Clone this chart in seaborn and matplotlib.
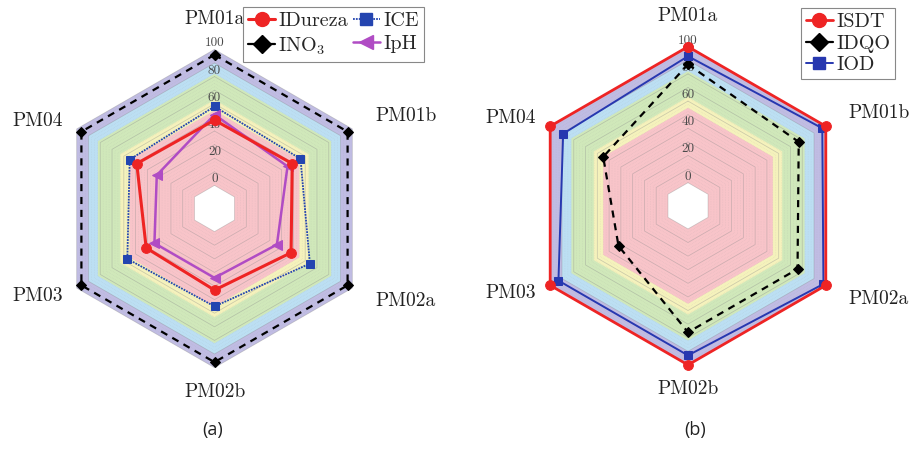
import numpy as np
import matplotlib
matplotlib.use("Agg")
import matplotlib.pyplot as plt
from matplotlib.lines import Line2D
import seaborn as sns

# Axis names (clockwise from the top) and radial tick values
axis_names = ["PM01a", "PM01b", "PM02a", "PM02b", "PM03", "PM04"]
tick_values = [0, 20, 40, 60, 80, 100]

# Panel (a) indices
idureza = [48, 49, 48, 43, 41, 49]
ice = [58, 56, 64, 55, 57, 55]
ino3 = [96, 96, 96, 96, 96, 96]
iph = [52, 45, 36, 34, 34, 32]

# Panel (b) indices
isdt = [100, 100, 100, 100, 100, 100]
idqo = [87, 77, 76, 76, 42, 55]
iod = [93, 97, 98, 93, 93, 89]

# Quality classes shaded behind the polygons
band_edges = [0, 55, 63, 82, 90, 100]
band_colors = ["#F8C4C9", "#F5F2BC", "#D0E8BA", "#BCDFF3", "#C0BCE3"]

PX = 1.36   # pixels per index unit
R0 = 17.0   # radius of the zero ring, in index units
W, H = 910, 468

sns.set_style("white")
plt.rcParams["font.family"] = ["cmr10", "DejaVu Serif"]
plt.rcParams["mathtext.fontset"] = "cm"
plt.rcParams["axes.unicode_minus"] = False

theta = np.deg2rad([90, 30, -30, -90, -150, 150])


def ring_xy(values):
    r = np.asarray(values, dtype=float) + R0
    x = r * np.cos(theta)
    y = r * np.sin(theta)
    return np.append(x, x[0]), np.append(y, y[0])


def make_axes(x0, cx, cy):
    ax = fig.add_axes([x0 / W, 0, 455 / W, 1])
    ax.set_xlim((x0 - cx) / PX, (x0 + 455 - cx) / PX)
    ax.set_ylim((cy - H) / PX, cy / PX)
    ax.set_axis_off()
    return ax


def draw_web(ax):
    for i in range(len(band_edges) - 1, 0, -1):
        x, y = ring_xy([band_edges[i]] * 6)
        ax.fill(x, y, color=band_colors[i - 1], lw=0, zorder=1)
    x, y = ring_xy([0] * 6)
    ax.fill(x, y, color="white", lw=0, zorder=1)
    for v in np.arange(2.5, 100, 2.5):
        if v % 10 == 0:
            continue
        x, y = ring_xy([v] * 6)
        ax.plot(x, y, color="#a0a0a0", lw=0.4, ls=(0, (1, 2)), alpha=0.3, zorder=2)
    for v in range(0, 101, 10):
        x, y = ring_xy([v] * 6)
        ax.plot(x, y, color="#8a8a8a", lw=0.55, alpha=0.4, zorder=2)
    for v in tick_values:
        ax.text(0, v + R0, str(v), ha="center", va="bottom", fontsize=9.5,
                color="#4a4a4a", zorder=3)
    for name, t in zip(axis_names, theta):
        deg = np.rad2deg(t)
        if deg == 90:
            r, ha, va = 116.0, "center", "bottom"
        elif deg == -90:
            r, ha, va = 111.5, "center", "top"
        elif np.cos(t) > 0:
            r, ha, va = 119.5, "left", "center"
        else:
            r, ha, va = 112.0, "right", "center"
        ax.text((r + R0) * np.cos(t), (r + R0) * np.sin(t), name, ha=ha, va=va,
                fontsize=14, color="#222222", zorder=3)


def draw_series(ax, values, color, marker, ms, lw, ls, label, z):
    x, y = ring_xy(values)
    sns.lineplot(x=x, y=y, sort=False, estimator=None, ax=ax, color=color,
                 marker=marker, markersize=ms, markeredgecolor=color,
                 markerfacecolor=color, linewidth=lw, linestyle=ls,
                 label=label, legend=False, zorder=z)


def add_legend(ax, handles, labels, ncol, anchor, spacing):
    leg = ax.legend(handles, labels, ncol=ncol, loc="upper left",
                    bbox_to_anchor=anchor, borderaxespad=0, fontsize=14.5,
                    handlelength=1.35, handletextpad=0.15, columnspacing=0.25,
                    borderpad=0.25, labelspacing=spacing, frameon=True,
                    fancybox=False, edgecolor="#888888", framealpha=1)
    leg.get_frame().set_linewidth(0.8)
    leg.set_zorder(20)


fig = plt.figure(figsize=(W / 100, H / 100), dpi=100)

# ---- panel (a)
ax_a = make_axes(0, 214.5, 208.5)
draw_web(ax_a)
draw_series(ax_a, ino3, "black", "D", 5.5, 1.6, (0, (3.2, 2.6)), "INO$_3$", 5)
draw_series(ax_a, ice, "#2445B0", "s", 5.5, 1.3, (0, (1, 0.6)), "ICE", 6)
draw_series(ax_a, iph, "#B04CC4", "<", 6.5, 1.8, "-", "IpH", 7)
draw_series(ax_a, idureza, "#EE2424", "o", 7.0, 2.2, "-", "IDureza", 8)

handles_a = [
    Line2D([], [], color="#EE2424", marker="o", ms=10, lw=2.2),
    Line2D([], [], color="black", marker="D", ms=9, lw=1.6),
    Line2D([], [], color="#2445B0", marker="s", ms=8.5, lw=1.3, ls=(0, (1, 0.6))),
    Line2D([], [], color="#B04CC4", marker="<", ms=10, lw=1.8),
]
add_legend(ax_a, handles_a, ["IDureza", "INO$_3$", "ICE", "IpH"], 2,
           (243 / 455, 1 - 7 / 468), 0.25)

# ---- panel (b)
ax_b = make_axes(455, 688.0, 205.8)
draw_web(ax_b)
draw_series(ax_b, idqo, "black", "D", 5.5, 1.6, (0, (3.2, 2.6)), "IDQO", 5)
draw_series(ax_b, iod, "#2738B0", "s", 5.5, 1.4, "-", "IOD", 6)
draw_series(ax_b, isdt, "#EE2424", "o", 7.0, 2.0, "-", "ISDT", 7)

handles_b = [
    Line2D([], [], color="#EE2424", marker="o", ms=10, lw=2.0),
    Line2D([], [], color="black", marker="D", ms=9, lw=1.6),
    Line2D([], [], color="#2738B0", marker="s", ms=8.5, lw=1.4),
]
add_legend(ax_b, handles_b, ["ISDT", "IDQO", "IOD"], 1,
           (345.7 / 455, 1 - 8.3 / 468), 0.15)

fig.text(213 / W, 1 - 430 / H, "(a)", ha="center", va="center",
         fontsize=13, family="Open Sans", color="#222222")
fig.text(695 / W, 1 - 430 / H, "(b)", ha="center", va="center",
         fontsize=13, family="Open Sans", color="#222222")

fig.savefig("out.png", dpi=100)
